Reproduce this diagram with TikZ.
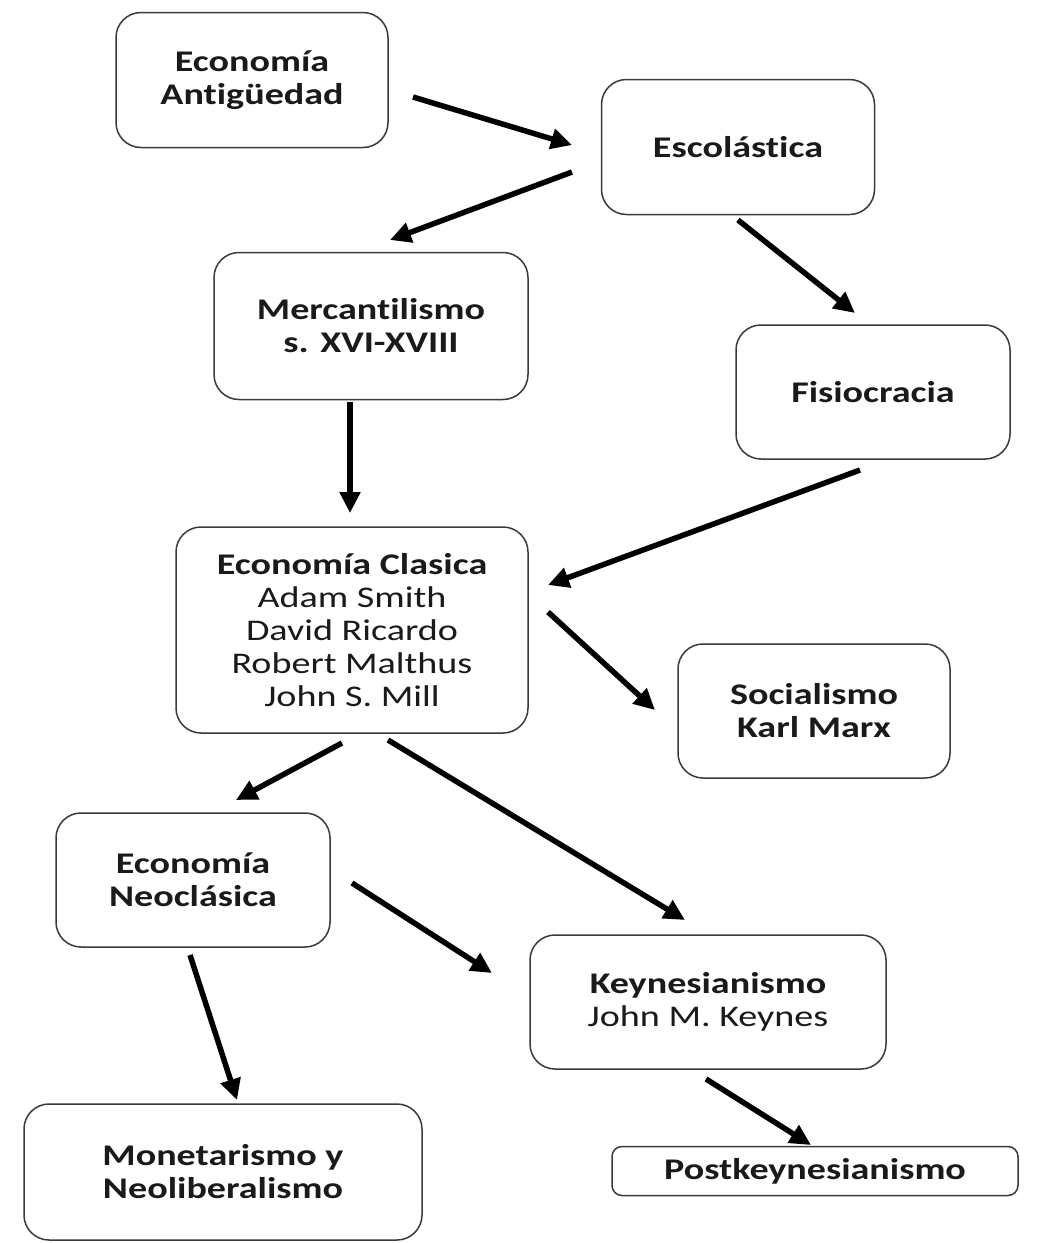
\documentclass[tikz,border=0pt]{standalone}
\usepackage{fontspec}
\setmainfont{Carlito}[FakeStretch=1.27,Ligatures=NoCommon]
\usetikzlibrary{arrows.meta}
\definecolor{txt}{HTML}{1A1A1A}
\definecolor{edge}{HTML}{3A3A3A}
\begin{document}
\begin{tikzpicture}[x=1pt,y=-1pt,
  box/.style={draw=edge, line width=1.5pt, rounded corners=25pt, align=center,
    text=txt, font=\fontsize{30}{33}\selectfont, inner sep=0pt},
  conn/.style={line width=5.5pt, -{Triangle[length=21pt,width=20pt]}, black}]
\useasboundingbox (0,0) rectangle (1062,1243);
\fill[white] (0,0) rectangle (1062,1243);

\node[box, minimum width=272pt, minimum height=135pt] (ant) at (252,80) {\bfseries Economía\\\bfseries Antigüedad};
\node[box, minimum width=273pt, minimum height=135pt] (esc) at (738,147) {\bfseries Escolástica};
\node[box, minimum width=314pt, minimum height=147pt] (mer) at (371,326) {\bfseries Mercantilismo\\\bfseries s. XVI-XVIII};
\node[box, minimum width=274pt, minimum height=134pt] (fis) at (873,392) {\bfseries Fisiocracia};
\node[box, minimum width=352pt, minimum height=206pt] (cla) at (352,630) {\bfseries Economía Clasica\\Adam Smith\\David Ricardo\\Robert Malthus\\John S. Mill};
\node[box, minimum width=272pt, minimum height=134pt] (soc) at (814,711) {\bfseries Socialismo\\\bfseries Karl Marx};
\node[box, minimum width=274pt, minimum height=134pt] (neo) at (193,880) {\bfseries Economía\\\bfseries Neoclásica};
\node[box, minimum width=356pt, minimum height=134pt] (key) at (708,1002) {\bfseries Keynesianismo\\John M. Keynes};
\node[box, minimum width=398pt, minimum height=136pt] (mon) at (223,1172) {\bfseries Monetarismo y\\\bfseries Neoliberalismo};
\node[box, rounded corners=10pt, minimum width=406pt, minimum height=49pt] (post) at (815,1171) {\bfseries Postkeynesianismo};

\coordinate (a1s) at (413,97);  \coordinate (a1e) at (572,145);
\coordinate (a2s) at (572,172); \coordinate (a2e) at (390,240);
\coordinate (a3s) at (738,220); \coordinate (a3e) at (855,313);
\coordinate (a4s) at (350,402); \coordinate (a4e) at (350,513);
\coordinate (a5s) at (860,470); \coordinate (a5e) at (548,585);
\coordinate (a6s) at (548,612); \coordinate (a6e) at (655,710);
\coordinate (a7s) at (342,743); \coordinate (a7e) at (236,800);
\coordinate (a8s) at (388,740); \coordinate (a8e) at (685,920);
\coordinate (a9s) at (352,883); \coordinate (a9e) at (492,973);
\coordinate (a10s) at (190,955); \coordinate (a10e) at (237,1100);
\coordinate (a11s) at (706,1079); \coordinate (a11e) at (811,1145);

\draw[conn] (a1s) -- (a1e);
\draw[conn] (a2s) -- (a2e);
\draw[conn] (a3s) -- (a3e);
\draw[conn] (a4s) -- (a4e);
\draw[conn] (a5s) -- (a5e);
\draw[conn] (a6s) -- (a6e);
\draw[conn] (a7s) -- (a7e);
\draw[conn] (a8s) -- (a8e);
\draw[conn] (a9s) -- (a9e);
\draw[conn] (a10s) -- (a10e);
\draw[conn] (a11s) -- (a11e);
\end{tikzpicture}
\end{document}
